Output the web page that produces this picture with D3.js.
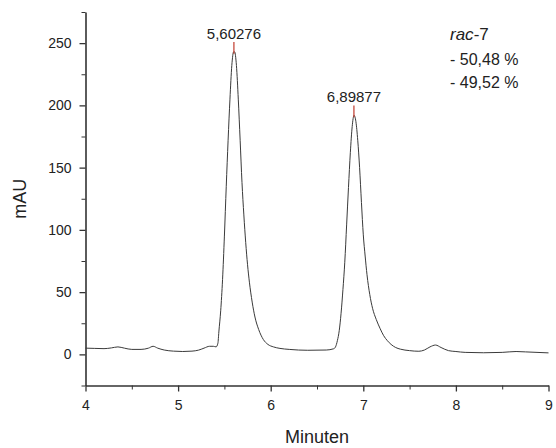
<!DOCTYPE html>
<html>
<head>
<meta charset="utf-8">
<script src="https://cdn.jsdelivr.net/npm/d3@7"></script>
<style>
  body { margin: 0; background: #fff; }
  svg { font-family: "Liberation Sans", Arial, sans-serif; }
  .axis path, .axis line { stroke: #333; }
  .axis text { fill: #222; font-size: 14px; }
</style>
</head>
<body>
<div id="chart"></div>
<script>
// chromatogram trace (minutes, mAU)
var times = [
  4.00, 4.10, 4.20, 4.28, 4.35, 4.42, 4.50, 4.60, 4.68, 4.73, 4.78, 4.85, 4.95, 5.05, 5.15, 5.22, 5.28,
  5.34, 5.38, 5.41, 5.43, 5.44, 5.46, 5.48, 5.50, 5.52, 5.54, 5.56, 5.58, 5.60, 5.61, 5.63, 5.65, 5.67,
  5.69, 5.71, 5.73, 5.75, 5.77, 5.80, 5.83, 5.87, 5.92, 5.97, 6.03, 6.10, 6.20, 6.40, 6.60, 6.68,
  6.70, 6.72, 6.74, 6.76, 6.78, 6.80, 6.82, 6.84, 6.86, 6.88, 6.90, 6.92, 6.94, 6.96, 6.98, 7.00,
  7.02, 7.04, 7.07, 7.10, 7.14, 7.18, 7.22, 7.26, 7.30, 7.35, 7.40, 7.50, 7.60, 7.66, 7.72, 7.78,
  7.84, 7.92, 8.00, 8.10, 8.30, 8.50, 8.65, 8.75, 9.00
];
var signal = [
  5.0, 4.8, 4.6, 5.2, 6.0, 5.0, 4.0, 4.0, 5.0, 6.5, 5.0, 3.5, 2.6, 2.3, 2.6, 3.4, 5.0,
  6.5, 6.5, 6.0, 9, 18, 35, 60, 95, 135, 172, 205, 232, 243, 243, 232, 205, 172,
  138, 112, 90, 72, 58, 42, 30, 20, 12, 8, 6, 4.8, 4.0, 3.3, 3.5, 4.5,
  6, 11, 19, 33, 52, 74, 104, 134, 162, 183, 192, 187, 172, 150, 122, 96,
  79, 64, 48, 37, 28, 21, 15, 11, 8, 5.5, 4.2, 3, 2.5, 3.5, 6, 7.5,
  5.5, 3, 2.3, 1.6, 1.3, 1.6, 2.3, 2, 1.2
];

// integrated peaks
var peakTimes = [5.60276, 6.89877];
var peakApex = [243, 192];
var peakLabels = ["5,60276", "6,89877"];
var percentLabels = ["- 50,48 %", "- 49,52 %"];

var xTicks = [4, 5, 6, 7, 8, 9];
var xMinor = [4.5, 5.5, 6.5, 7.5, 8.5];
var yTicks = [0, 50, 100, 150, 200, 250];
var yMinor = [-25, 25, 75, 125, 175, 225, 275];

var W = 556, H = 448;
var font = "'Liberation Sans', Arial, sans-serif";

var svg = d3.select("#chart").append("svg")
    .attr("width", W)
    .attr("height", H);

var x = d3.scaleLinear().domain([4, 9]).range([85.5, 548.5]);
var y = d3.scaleLinear().domain([-25, 275]).range([385.5, 12]);

// minor ticks first
svg.append("g")
    .attr("class", "axis")
    .attr("transform", "translate(0," + y(-25) + ")")
    .call(d3.axisBottom(x).tickValues(xMinor).tickSize(4).tickSizeOuter(0).tickFormat(""))
    .select(".domain").remove();

svg.append("g")
    .attr("class", "axis")
    .attr("transform", "translate(" + x(4) + ",0)")
    .call(d3.axisLeft(y).tickValues(yMinor).tickSize(4).tickSizeOuter(0).tickFormat(""))
    .select(".domain").remove();

// X axis
var xAxis = svg.append("g")
    .attr("class", "axis")
    .attr("transform", "translate(0," + y(-25) + ")")
    .call(d3.axisBottom(x).tickValues(xTicks).tickSize(6).tickSizeOuter(0).tickPadding(9).tickFormat(d3.format("d")))
    .attr("font-family", font);
xAxis.select(".domain").attr("stroke-width", 1.6);
xAxis.selectAll(".tick line").attr("stroke-width", 1.3);

// Y axis
var yAxis = svg.append("g")
    .attr("class", "axis")
    .attr("transform", "translate(" + x(4) + ",0)")
    .call(d3.axisLeft(y).tickValues(yTicks).tickSize(6).tickSizeOuter(0).tickPadding(8).tickFormat(d3.format("d")))
    .attr("font-family", font);
yAxis.select(".domain").attr("stroke-width", 1.6);
yAxis.selectAll(".tick line").attr("stroke-width", 1.3);
svg.selectAll(".axis .tick line").attr("stroke", "#333");

// axis labels
svg.append("text")
    .attr("text-anchor", "middle")
    .attr("x", (x(4) + x(9)) / 2)
    .attr("y", 443)
    .style("font-size", "18px")
    .style("fill", "#222")
    .text("Minuten");

svg.append("text")
    .attr("text-anchor", "middle")
    .attr("transform", "translate(26," + ((y(-25) + y(275)) / 2) + ") rotate(-90)")
    .style("font-size", "18px")
    .style("fill", "#222")
    .text("mAU");

// the trace
var trace = times.map(function (t, i) { return [t, signal[i]]; });
svg.append("path")
    .datum(trace)
    .attr("fill", "none")
    .attr("stroke", "#3a3a3a")
    .attr("stroke-width", 1)
    .attr("d", d3.line()
        .x(function (d) { return x(d[0]); })
        .y(function (d) { return y(d[1]); })
        .curve(d3.curveMonotoneX));

// peak markers and retention time labels
var peaks = peakTimes.map(function (t, i) { return { t: t, h: peakApex[i], label: peakLabels[i] }; });
svg.selectAll(".peakmark")
    .data(peaks)
    .enter()
    .append("line")
    .attr("class", "peakmark")
    .attr("x1", function (d) { return x(d.t); })
    .attr("x2", function (d) { return x(d.t); })
    .attr("y1", function (d) { return y(d.h) + 2; })
    .attr("y2", function (d) { return y(d.h + 8); })
    .attr("stroke", "#c0392b")
    .attr("stroke-width", 1.2);

svg.selectAll(".peaklabel")
    .data(peaks)
    .enter()
    .append("text")
    .attr("class", "peaklabel")
    .attr("text-anchor", "middle")
    .attr("x", function (d) { return x(d.t); })
    .attr("y", function (d) { return y(d.h + 8) - 3; })
    .style("font-size", "15px")
    .style("fill", "#222")
    .text(function (d) { return d.label; });

// sample name and enantiomer ratio
var title = svg.append("text")
    .attr("x", 450)
    .attr("y", 40)
    .style("font-size", "17px")
    .style("fill", "#222");
title.append("tspan").style("font-style", "italic").text("rac");
title.append("tspan").text("-7");

svg.selectAll(".pct")
    .data(percentLabels)
    .enter()
    .append("text")
    .attr("class", "pct")
    .attr("x", 450)
    .attr("y", function (d, i) { return 65 + i * 23; })
    .style("font-size", "16px")
    .style("fill", "#222")
    .text(function (d) { return d; });
</script>
</body>
</html>
